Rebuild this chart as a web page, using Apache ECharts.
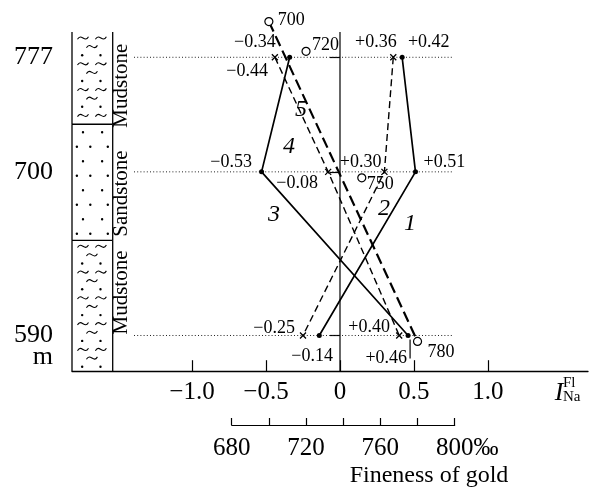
<!DOCTYPE html>
<html><head><meta charset="utf-8">
<script src="https://cdn.jsdelivr.net/npm/echarts@6/dist/echarts.min.js"></script>
<style>html,body{margin:0;padding:0;background:#fff}#c{width:594px;height:489px}</style>
</head><body><div id="c"></div>
<script>
// ---------- data ----------
const depthLevels = [777, 700, 590];
const curve1 = [0.42, 0.51, -0.14];
const curve2 = [0.36, 0.30, -0.25];
const curve3 = [-0.34, -0.53, 0.46];
const curve4 = [-0.44, -0.08, 0.40];
const finenessValues = [700, 720, 750, 780];
const finenessDepths = [801, 781, 696, 586];
const indexTicks = [-1.0, -0.5, 0, 0.5, 1.0];
const finenessTickLabels = [680, 720, 760, 800];
const layerNames = ['Mudstone', 'Sandstone', 'Mudstone'];
const layerTops = [794, 732, 654];
const layerBottoms = [732, 654, 566];
const curveNumbers = ['1', '2', '3', '4', '5'];

// ---------- style ----------
const FONT = 'Liberation Serif';
const INK = '#000';
const Y_MIN = 566, Y_MAX = 794, Y_MAX_FINE = 810;
const LBL = 18;

function fmt(v) { return (v > 0 ? '+' : '\u2212') + Math.abs(v).toFixed(2); }
function axisFmt(v) { return v === 0 ? '0' : (v < 0 ? '\u2212' + Math.abs(v).toFixed(1) : v.toFixed(1)); }

const labelPlace = {
  c1: [['left', [5.8, -15.3]], ['left', [8, -9.8]], ['right', [13.7, 21]]],
  c2: [['right', [3.4, -15.3]], ['right', [-3, -9.8]], ['right', [-8, -7.6]]],
  c3: [['right', [-14, -15.3]], ['right', [-9.6, -9.8]], ['right', [-1, 22.4]]],
  c4: [['right', [-6.9, 13.7]], ['right', [-10.2, 11.2]], ['right', [-9.2, -8.1]]]
};
const fineLabelPlace = [[9, -1], [6, -6], [5, 6], [10, 11]];

const dotSymbol = { symbol: 'circle', symbolSize: 5, itemStyle: { color: INK, opacity: 1 } };
const crossSymbol = { symbol: 'path://M0,0L10,10M10,0L0,10', symbolSize: 6,
  itemStyle: { color: 'none', borderColor: INK, borderWidth: 1.3, opacity: 1 } };

function textLabel(text, align, offset) {
  return { show: true, position: 'inside', align, verticalAlign: 'middle', offset,
    formatter: text, color: INK, fontFamily: FONT, fontSize: LBL,
    textBorderWidth: 0, textBorderColor: 'transparent', textShadowBlur: 0 };
}

function curveSeries(name, values, place, lineStyle, sym) {
  return Object.assign({
    type: 'line', name, xAxisIndex: 0, yAxisIndex: 0,
    lineStyle: Object.assign({ color: INK }, lineStyle),
    showAllSymbol: true, silent: true, z: 3,
    data: values.map((v, i) => ({
      value: [v, depthLevels[i]],
      label: textLabel(fmt(v), place[i][0], place[i][1])
    }))
  }, sym);
}

function tilde(cx, cy) {
  return { type: 'bezierCurve', shape: { x1: cx - 5.5, y1: cy + 1.2, cpx1: cx - 1.5, cpy1: cy - 5.5,
    cpx2: cx + 1.5, cpy2: cy + 5.5, x2: cx + 5.5, y2: cy - 1.2 }, style: { stroke: INK, fill: null, lineWidth: 1.1 } };
}
function dot(cx, cy) {
  return { type: 'circle', shape: { cx, cy, r: 1.2 }, style: { fill: INK } };
}
function renderColumn(params, api) {
  const i = params.dataIndex;
  const p0 = api.coord([0, layerTops[i]]);
  const p1 = api.coord([1, layerBottoms[i]]);
  const x0 = p0[0], y0 = p0[1], x1 = p1[0], y1 = p1[1];
  const w = x1 - x0;
  const ls = { stroke: INK, lineWidth: 1.3 };
  const ch = [
    { type: 'line', shape: { x1: x0, y1: y0, x2: x0, y2: y1 }, style: ls },
    { type: 'line', shape: { x1: x1, y1: y0, x2: x1, y2: y1 }, style: ls }
  ];
  if (i < layerNames.length - 1) ch.push({ type: 'line', shape: { x1: x0, y1: y1, x2: x1, y2: y1 }, style: ls });
  if (layerNames[i] === 'Sandstone') {
    let k = 0;
    for (let y = y0 + 8; y < y1 - 4; y += 14.5, k++) {
      const xs = k % 2 === 0 ? [0.27, 0.74] : [0.12, 0.45, 0.88];
      xs.forEach(f => ch.push(dot(x0 + f * w, y)));
    }
  } else {
    let k = 0;
    for (let y = y0 + 6; y < y1 - 3; y += 8.6, k++) {
      const m = k % 3;
      if (m === 0) [0.27, 0.71].forEach(f => ch.push(tilde(x0 + f * w, y)));
      else if (m === 1) ch.push(tilde(x0 + 0.49 * w, y));
      else [0.25, 0.7].forEach(f => ch.push(dot(x0 + f * w, y)));
    }
  }
  return { type: 'group', children: ch };
}

const chart = echarts.init(document.getElementById('c'), null, { renderer: 'canvas' });
const hidden = { show: false };
const option = {
  animation: false,
  backgroundColor: '#fff',
  grid: [
    { left: 72, right: 6, top: 32, bottom: 117.8 },
    { left: 231.7, right: 139.3, top: 8.2, bottom: 117.8 },
    { left: 72, width: 40.7, top: 32, bottom: 117.8 },
    { left: 134, right: 141, top: 32, bottom: 117.8 }
  ],
  xAxis: [
    { gridIndex: 0, type: 'value', min: -1.8108, max: 1.6757,
      axisLine: { lineStyle: { color: INK, width: 1.3 } },
      axisTick: { show: true, inside: true, length: 11, customValues: indexTicks, lineStyle: { color: INK, width: 1.2 } },
      axisLabel: { customValues: indexTicks, formatter: axisFmt, margin: 9, color: INK, fontFamily: FONT, fontSize: 25 },
      splitLine: hidden },
    { gridIndex: 1, type: 'value', min: 680, max: 800, interval: 20, offset: 53.8, position: 'bottom',
      axisLine: { lineStyle: { color: INK, width: 1.2 } },
      axisTick: { show: true, inside: true, length: 7, lineStyle: { color: INK, width: 1.2 } },
      axisLabel: { customValues: finenessTickLabels, margin: 11, color: INK, fontFamily: FONT, fontSize: 25,
        formatter: v => v === 800 ? '{s|\u2030}{n|800}{p|\u2030}' : String(v),
        rich: { s: { color: 'rgba(0,0,0,0)', fontFamily: FONT, fontSize: 25 },
                n: { color: INK, fontFamily: FONT, fontSize: 25 },
                p: { color: INK, fontFamily: FONT, fontSize: 25 } } },
      splitLine: hidden },
    { gridIndex: 2, type: 'value', min: 0, max: 1, show: false },
    { gridIndex: 3, type: 'value', min: 0, max: 1, show: false }
  ],
  yAxis: [
    { gridIndex: 0, type: 'value', min: Y_MIN, max: Y_MAX, position: 'left',
      axisLine: hidden,
      axisTick: { show: true, length: 10, customValues: depthLevels, lineStyle: { color: INK, width: 1.2 } },
      axisLabel: { customValues: depthLevels, margin: 19, color: INK, fontFamily: FONT, fontSize: 26 },
      splitLine: hidden },
    { gridIndex: 1, type: 'value', min: Y_MIN, max: Y_MAX_FINE, show: false },
    { gridIndex: 2, type: 'value', min: Y_MIN, max: Y_MAX, show: false },
    { gridIndex: 3, type: 'value', min: Y_MIN, max: Y_MAX, show: false }
  ],
  series: [
    // lithological column
    { type: 'custom', xAxisIndex: 2, yAxisIndex: 2, silent: true, clip: false,
      data: layerTops.map((t, i) => [t, layerBottoms[i]]), renderItem: renderColumn,
      encode: { y: [0, 1] } },
    // dotted level lines
    ...depthLevels.map(d => ({
      type: 'line', xAxisIndex: 3, yAxisIndex: 3, silent: true, symbol: 'none', z: 1,
      lineStyle: { color: '#222', width: 1, type: [1, 2.2] },
      data: [[0, d], [1, d]]
    })),
    // zero line
    { type: 'line', xAxisIndex: 0, yAxisIndex: 0, silent: true, symbol: 'none', z: 1,
      lineStyle: { color: INK, width: 1.2 }, data: [[0, Y_MIN], [0, Y_MAX]] },
    curveSeries('1', curve1, labelPlace.c1, { width: 1.7 }, dotSymbol),
    curveSeries('2', curve2, labelPlace.c2, { width: 1.4, type: [7, 4] }, crossSymbol),
    curveSeries('3', curve3, labelPlace.c3, { width: 1.7 }, dotSymbol),
    curveSeries('4', curve4, labelPlace.c4, { width: 1.4, type: [7, 4] }, crossSymbol),
    // leader tick for +0.46
    { type: 'scatter', xAxisIndex: 0, yAxisIndex: 0, silent: true, symbol: 'rect',
      symbolSize: [1.2, 19], symbolOffset: [2, 13.4], itemStyle: { color: INK, opacity: 1 }, z: 4,
      data: [[curve3[2], depthLevels[2]]] },
    // fineness of gold curve 5
    { type: 'line', xAxisIndex: 1, yAxisIndex: 1, silent: true, symbol: 'none', z: 3,
      lineStyle: { color: INK, width: 2.2, type: [11, 5] },
      data: [[finenessValues[0], finenessDepths[0]],
             [finenessValues[finenessValues.length - 1], finenessDepths[finenessDepths.length - 1]]] },
    { type: 'scatter', xAxisIndex: 1, yAxisIndex: 1, silent: true, z: 5,
      symbol: 'circle', symbolSize: 8,
      itemStyle: { color: '#fff', borderColor: INK, borderWidth: 1.2, opacity: 1 },
      data: finenessValues.map((f, i) => ({
        value: [f, finenessDepths[i]],
        label: textLabel(String(f), 'left', fineLabelPlace[i])
      })) }
  ],
  graphic: [
    ...[[85.7, 0], [193.5, 1], [292.5, 2]].map(([cy, i]) => ({
      type: 'text', x: 121.8, y: cy, rotation: Math.PI / 2, z: 10,
      style: { text: layerNames[i], font: '21px "' + FONT + '"', fill: INK,
        textAlign: 'center', textVerticalAlign: 'middle', align: 'center', verticalAlign: 'middle' }
    })),
    { type: 'text', x: 53, y: 357.5, z: 10,
      style: { text: 'm', font: '26px "' + FONT + '"', fill: INK,
        textAlign: 'right', textVerticalAlign: 'middle', align: 'right', verticalAlign: 'middle' } },
    { type: 'text', x: 559, y: 393, z: 10,
      style: { text: 'I', font: 'italic 26px "' + FONT + '"', fill: INK,
        textAlign: 'center', textVerticalAlign: 'middle', align: 'center', verticalAlign: 'middle' } },
    { type: 'text', x: 563, y: 383.5, z: 10,
      style: { text: 'Fl', font: '15px "' + FONT + '"', fill: INK,
        textAlign: 'left', textVerticalAlign: 'middle', align: 'left', verticalAlign: 'middle' } },
    { type: 'text', x: 563, y: 397.5, z: 10,
      style: { text: 'Na', font: '15px "' + FONT + '"', fill: INK,
        textAlign: 'left', textVerticalAlign: 'middle', align: 'left', verticalAlign: 'middle' } },
    { type: 'text', x: 429, y: 476, z: 10,
      style: { text: 'Fineness of gold', font: '24px "' + FONT + '"', fill: INK,
        textAlign: 'center', textVerticalAlign: 'middle', align: 'center', verticalAlign: 'middle' } },
    ...[[410, 224], [384, 209], [274, 215], [289, 147], [301, 110]].map(([x, y], i) => ({
      type: 'text', x, y, z: 10,
      style: { text: curveNumbers[i], font: 'italic 24px "' + FONT + '"', fill: INK,
        textAlign: 'center', textVerticalAlign: 'middle', align: 'center', verticalAlign: 'middle' }
    }))
  ]
};
chart.setOption(option);
</script></body></html>
